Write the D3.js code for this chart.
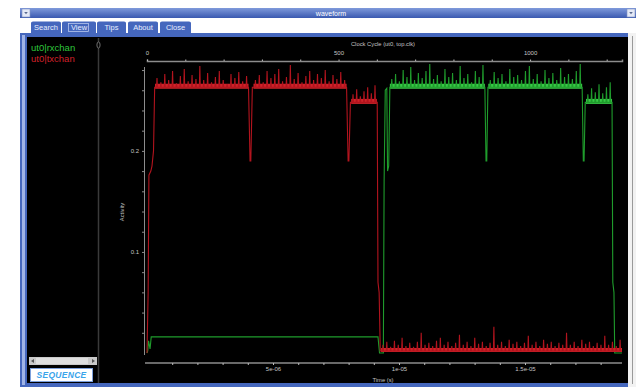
<!DOCTYPE html>
<html>
<head>
<meta charset="utf-8">
<script src="https://cdn.jsdelivr.net/npm/d3@7"></script>
<style>
  html, body { margin: 0; padding: 0; background: #fff; }
  svg { display: block; font-family: "Liberation Sans", Arial, sans-serif; }
</style>
</head>
<body>
<svg id="chart" width="636" height="389"></svg>
<script>
// clock period in seconds (top axis is in cycles, bottom axis in seconds)
const clockPeriod = 15.2e-9;
const cycleTicks = [0, 500, 1000];
const timeTicks = [5e-6, 1e-5, 1.5e-5];
const timeLabels = ['5e-06', '1e-05', '1.5e-05'];
const activityTicks = [0.1, 0.2];
const tabs = ['Search', 'View', 'Tips', 'About', 'Close'];
const legendNames = ['ut0|rxchan', 'ut0|txchan'];

// ut0|txchan (red): edges and dips, [cycle, activity]
const txEdges = [
  [0, 0], [3, 0.06], [5, 0.176], [10, 0.18], [13, 0.185], [17, 0.2], [20, 0.263],
  [265, 0.263], [269, 0.19], [271, 0.19], [275, 0.263],
  [521, 0.263], [525, 0.19], [527, 0.19], [531, 0.248],
  [601, 0.248], [603, 0.07], [606, 0.06], [609, 0.002]
];
// plateaus [startCycle, endCycle, level]
const txPlateaus = [[21, 265, 0.263], [278, 521, 0.263], [533, 600, 0.248], [611, 1240, 0.002]];
const txSpikes = [
  [0.272, 0.268, 0.276, 0.27, 0.279, 0.267, 0.274, 0.281, 0.269, 0.275, 0.271, 0.284,
   0.27, 0.277, 0.268, 0.273, 0.279, 0.27, 0.266, 0.276, 0.272, 0.278, 0.269, 0.274],
  [0.27, 0.275, 0.268, 0.279, 0.272, 0.276, 0.281, 0.269, 0.273, 0.285, 0.271, 0.277,
   0.268, 0.274, 0.279, 0.27, 0.276, 0.272, 0.28, 0.269, 0.275, 0.271, 0.278, 0.27],
  [0.256, 0.261, 0.254, 0.259, 0.263, 0.257, 0.265],
  [0.008, 0.011, 0.006, 0.012, 0.008, 0.015, 0.007, 0.01, 0.006, 0.011, 0.02, 0.008,
   0.01, 0.007, 0.012, 0.015, 0.008, 0.011, 0.007, 0.01, 0.018, 0.008, 0.011, 0.007,
   0.015, 0.009, 0.011, 0.007, 0.01, 0.026, 0.008, 0.011, 0.007, 0.013, 0.009, 0.011,
   0.007, 0.01, 0.017, 0.008, 0.011, 0.007, 0.013, 0.009, 0.011, 0.007, 0.01, 0.008,
   0.02, 0.008, 0.011, 0.007, 0.013, 0.009, 0.011, 0.007, 0.01, 0.008, 0.017, 0.008,
   0.011, 0.007, 0.013]
];

// ut0|rxchan (green)
const rxEdges = [
  [0, 0], [2, 0.002], [4, 0.012], [6, 0.008], [8, 0.004], [11, 0.016],
  [603, 0.016], [607, 0], [617, 0], [619, 0.17], [622, 0.26], [626, 0.262],
  [628, 0.18], [631, 0.185], [634, 0.263],
  [882, 0.263], [885, 0.19], [887, 0.19], [890, 0.263],
  [1136, 0.263], [1139, 0.19], [1141, 0.19], [1144, 0.248],
  [1214, 0.248], [1216, 0.07], [1219, 0.06], [1221, 0], [1240, 0]
];
const rxPlateaus = [[634, 882, 0.263], [891, 1136, 0.263], [1146, 1214, 0.248]];
const rxSpikes = [
  [0.271, 0.276, 0.269, 0.28, 0.273, 0.283, 0.27, 0.277, 0.272, 0.279, 0.286, 0.271,
   0.275, 0.269, 0.281, 0.273, 0.277, 0.27, 0.284, 0.272, 0.276, 0.268, 0.279, 0.273, 0.285],
  [0.27, 0.278, 0.272, 0.276, 0.269, 0.281, 0.273, 0.275, 0.27, 0.279, 0.284, 0.271,
   0.276, 0.269, 0.28, 0.272, 0.277, 0.27, 0.282, 0.273, 0.276, 0.271, 0.279, 0.286],
  [0.256, 0.262, 0.258, 0.266, 0.257, 0.263, 0.268]
];

const svg = d3.select('#chart');

// ---- window chrome ----
const defs = svg.append('defs');
const tg = defs.append('linearGradient').attr('id', 'titleGrad').attr('x1', 0).attr('y1', 0).attr('x2', 0).attr('y2', 1);
tg.append('stop').attr('offset', '0%').attr('stop-color', '#7f9adb');
tg.append('stop').attr('offset', '100%').attr('stop-color', '#3a59b0');

svg.append('rect').attr('x', 20).attr('y', 8).attr('width', 616).attr('height', 10).attr('fill', 'url(#titleGrad)');
svg.append('text').attr('x', 331).attr('y', 15.5).attr('text-anchor', 'middle')
  .attr('font-size', 7).attr('fill', '#fff').text('waveform');
[22, 627].forEach(bx => {
  svg.append('rect').attr('x', bx).attr('y', 9).attr('width', 8).attr('height', 8)
    .attr('fill', '#e4e9f6').attr('stroke', '#8093c4').attr('stroke-width', 0.6);
  svg.append('path').attr('d', `M${bx + 2.2},12 L${bx + 5.8},12 L${bx + 4},14.2 Z`).attr('fill', '#5a6a90');
});

// tabs
const tabX = [31, 62, 97, 128, 160];
const tabW = [30, 34, 29, 30, 31];
tabs.forEach((t, i) => {
  svg.append('path')
    .attr('d', `M${tabX[i]},33 L${tabX[i]},23 Q${tabX[i]},21.5 ${tabX[i] + 2},21.5 L${tabX[i] + tabW[i] - 2},21.5 Q${tabX[i] + tabW[i]},21.5 ${tabX[i] + tabW[i]},23 L${tabX[i] + tabW[i]},33 Z`)
    .attr('fill', '#4567bd');
  svg.append('text').attr('x', tabX[i] + tabW[i] / 2).attr('y', 29.8).attr('text-anchor', 'middle')
    .attr('font-size', 7.5).attr('fill', '#e8eeff').text(t);
  if (t === 'View') {
    svg.append('rect').attr('x', 68.5).attr('y', 23.5).attr('width', 20).attr('height', 8)
      .attr('fill', 'none').attr('stroke', '#c8d4f4').attr('stroke-width', 0.7);
  }
});

// panel frame
svg.append('rect').attr('x', 20).attr('y', 33).attr('width', 616).attr('height', 354).attr('fill', '#4567bd');
svg.append('rect').attr('x', 22).attr('y', 35).attr('width', 3).attr('height', 350).attr('fill', '#9fb3e6');
svg.append('rect').attr('x', 27).attr('y', 37).attr('width', 601).attr('height', 346).attr('fill', '#000');
svg.append('rect').attr('x', 628).attr('y', 33).attr('width', 8).attr('height', 354).attr('fill', '#f2f2f2');
svg.append('line').attr('x1', 632.5).attr('x2', 632.5).attr('y1', 36).attr('y2', 384).attr('stroke', '#9a9a9a');

// left panel divider
svg.append('line').attr('x1', 98.5).attr('x2', 98.5).attr('y1', 38).attr('y2', 383)
  .attr('stroke', '#3a3a3a').attr('stroke-width', 1.5);
svg.append('ellipse').attr('cx', 98.5).attr('cy', 45).attr('rx', 1.6).attr('ry', 3)
  .attr('fill', '#000').attr('stroke', '#888').attr('stroke-width', 0.8);

// legend
const colors = ['#2fc63c', '#d0202a'];
legendNames.forEach((n, i) => {
  svg.append('text').attr('x', 31).attr('y', 50.5 + i * 11).attr('font-size', 9.5)
    .attr('fill', colors[i]).text(n);
});

// scrollbar + logo
svg.append('rect').attr('x', 29).attr('y', 357).attr('width', 68).attr('height', 8).attr('fill', '#c9c9c9');
svg.append('rect').attr('x', 36).attr('y', 358).attr('width', 52).attr('height', 6).attr('fill', '#dedede');
svg.append('path').attr('d', 'M31,361 L34,359 L34,363 Z').attr('fill', '#555');
svg.append('path').attr('d', 'M95,361 L92,359 L92,363 Z').attr('fill', '#555');
svg.append('rect').attr('x', 30.5).attr('y', 368.5).attr('width', 62).attr('height', 13)
  .attr('fill', '#fff').attr('stroke', '#7da0dc');
svg.append('text').attr('x', 61.5).attr('y', 378.3).attr('text-anchor', 'middle')
  .attr('font-size', 8.5).attr('font-weight', 'bold').attr('font-style', 'italic')
  .attr('fill', '#3aa4ea').attr('letter-spacing', 0.3).text('SEQUENCE');

// ---- plot ----
const xCycle = d3.scaleLinear().domain([0, 1240]).range([147, 622]);
const xTime = d3.scaleLinear().domain([0, 1240 * clockPeriod]).range([147, 622]);
const y = d3.scaleLinear().domain([0, 0.285]).range([353, 65]);

const axisColor = '#8c8c8c';
const labelColor = '#c4c4c4';

// top cycle axis
const topAxis = svg.append('g').attr('transform', 'translate(0,61)')
  .call(d3.axisTop(xCycle).tickValues(d3.range(0, 1201, 100)).tickSize(1.5).tickFormat(d => cycleTicks.includes(d) ? d : ''));
topAxis.select('.domain').attr('stroke', axisColor).attr('stroke-width', 1.5);
topAxis.selectAll('.tick line').attr('stroke', '#bbb');
topAxis.selectAll('.tick text').attr('fill', labelColor).attr('font-size', 6).attr('dy', '-1.5');
svg.append('text').attr('x', 383).attr('y', 46).attr('text-anchor', 'middle')
  .attr('font-size', 5.8).attr('fill', labelColor).text('Clock Cycle (ut0, top.clk)');

// left activity axis
const leftAxis = svg.append('g').attr('transform', 'translate(144.5,0)')
  .call(d3.axisLeft(y).tickValues(d3.range(0.02, 0.285, 0.02)).tickSize(2.5)
    .tickFormat(d => activityTicks.some(a => Math.abs(a - d) < 1e-6) ? d3.format('.1f')(d) : ''));
leftAxis.select('.domain').attr('stroke', axisColor).attr('d', 'M0,355V67');
leftAxis.selectAll('.tick line').attr('stroke', axisColor);
leftAxis.selectAll('.tick text').attr('fill', labelColor).attr('font-size', 6);
svg.append('text').attr('transform', 'translate(124,212) rotate(-90)').attr('text-anchor', 'middle')
  .attr('font-size', 5.8).attr('fill', labelColor).text('Activity');

// bottom time axis
const bottomAxis = svg.append('g').attr('transform', 'translate(0,363)')
  .call(d3.axisBottom(xTime).tickValues(d3.range(1, 19).map(d => d * 1e-6)).tickSize(2)
    .tickFormat(d => {
      const k = timeTicks.findIndex(t => Math.abs(t - d) < 1e-9);
      return k >= 0 ? timeLabels[k] : '';
    }));
bottomAxis.select('.domain').attr('stroke', axisColor).attr('stroke-width', 1.5).attr('d', 'M145,0H622');
bottomAxis.selectAll('.tick line').attr('stroke', '#bbb');
bottomAxis.selectAll('.tick text').attr('fill', labelColor).attr('font-size', 6).attr('dy', '0.5em');
svg.append('text').attr('x', 383).attr('y', 382).attr('text-anchor', 'middle')
  .attr('font-size', 5.8).attr('fill', labelColor).text('Time (s)');

// build a channel trace from edges, plateaus and spike heights
function buildTrace(edges, plateaus, spikes) {
  const pts = edges.slice();
  plateaus.forEach((p, k) => {
    const [a, b, lvl] = p;
    const s = spikes[k] || [];
    const step = (b - a) / s.length;
    pts.push([a, lvl]);
    s.forEach((v, i) => {
      const c = a + (i + 0.5) * step;
      pts.push([c - 1.2, lvl], [c, v], [c + 1.2, lvl]);
    });
    pts.push([b, lvl]);
  });
  return pts.sort((p, q) => p[0] - q[0]);
}

const line = d3.line().x(d => xCycle(d[0])).y(d => y(d[1]));

function drawChannel(edges, plateaus, spikes, lineColor, bandColor) {
  const g = svg.append('g');
  g.selectAll('line.band').data(plateaus).enter().append('line')
    .attr('x1', d => xCycle(d[0])).attr('x2', d => xCycle(d[1]))
    .attr('y1', d => y(d[2]) - 1).attr('y2', d => y(d[2]) - 1)
    .attr('stroke', bandColor).attr('stroke-width', d => d[2] > 0.1 ? 5 : 4);
  g.append('path').datum(buildTrace(edges, plateaus, spikes))
    .attr('d', line).attr('fill', 'none').attr('stroke', lineColor).attr('stroke-width', 1.1);
}

drawChannel(rxEdges, rxPlateaus, rxSpikes, '#1f9c2c', '#38c947');
drawChannel(txEdges, txPlateaus, txSpikes, '#b3141e', '#cf2329');
</script>
</body>
</html>
